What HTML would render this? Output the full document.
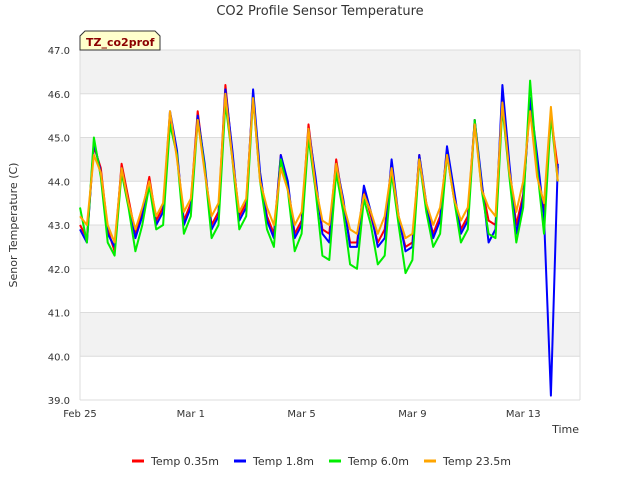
<!DOCTYPE html>
<html><head><meta charset="utf-8"><style>
body{margin:0;background:#fff;font-family:"Liberation Sans","DejaVu Sans",sans-serif}
svg text{font-family:"DejaVu Sans","Liberation Sans",sans-serif}
</style></head><body>
<svg id="c" width="640" height="480" xmlns="http://www.w3.org/2000/svg">
<text x="320" y="15" text-anchor="middle" font-size="13" fill="#333">CO2 Profile Sensor Temperature</text>
<g id="bands"></g><g id="grid"></g><g id="series"></g><g id="axes"></g>
<text x="17" y="225" transform="rotate(-90 17 225)" text-anchor="middle" font-size="11" fill="#333">Senor Temperature (C)</text>
<text x="579" y="433" text-anchor="end" font-size="11" fill="#333">Time</text>
<g><path d="M80,50 L80,36 L85,31 L155,31 L160,36 L160,50 Z" fill="#ffffcc" stroke="#333" stroke-width="1"/><text x="86" y="46" font-size="11" font-weight="bold" fill="#8b0000">TZ_co2prof</text></g>
<g id="legend"></g>
</svg>
<script>
const dayLabels=["Feb 25","Mar 1","Mar 5","Mar 9","Mar 13"];
const dayTicks=[0,4,8,12,16];
const yTicks=[39,40,41,42,43,44,45,46,47];
const seriesNames=["Temp 0.35m","Temp 1.8m","Temp 6.0m","Temp 23.5m"];
const seriesColors=["#ff0000","#0000ff","#00ee00","#ffa500"];
const step=0.25;
const red=[43.0,42.7,44.8,44.3,42.9,42.4,44.4,43.6,42.8,43.3,44.1,43.1,43.4,45.5,44.6,43.1,43.5,45.6,44.3,43.0,43.3,46.2,44.6,43.2,43.5,46.0,44.1,43.2,42.8,44.6,43.9,42.8,43.1,45.3,44.0,42.9,42.8,44.5,43.5,42.6,42.6,43.8,43.2,42.6,42.9,44.4,43.1,42.5,42.6,44.6,43.4,42.8,43.2,44.7,43.7,42.9,43.2,45.4,43.9,43.1,43.0,45.9,44.3,43.0,43.7,45.8,44.2,43.3,45.5,44.3];
const blue=[42.9,42.6,44.9,44.2,42.8,42.5,44.3,43.5,42.7,43.2,44.0,43.0,43.3,45.6,44.7,43.0,43.4,45.5,44.4,42.9,43.2,46.1,44.7,43.1,43.4,46.1,44.2,43.1,42.7,44.6,44.0,42.7,43.0,45.2,44.1,42.8,42.6,44.4,43.6,42.5,42.5,43.9,43.3,42.5,42.7,44.5,43.2,42.4,42.5,44.6,43.5,42.7,43.1,44.8,43.8,42.8,43.1,45.4,44.0,42.6,42.9,46.2,44.4,42.8,43.6,45.9,44.6,43.2,39.1,44.4];
const green=[43.4,42.6,45.0,44.1,42.6,42.3,44.2,43.4,42.4,43.0,43.9,42.9,43.0,45.3,44.6,42.8,43.2,45.4,44.3,42.7,43.0,45.8,44.5,42.9,43.2,45.9,44.0,42.9,42.5,44.5,43.8,42.4,42.8,45.0,43.8,42.3,42.2,44.2,43.3,42.1,42.0,43.6,43.0,42.1,42.3,44.2,43.0,41.9,42.2,44.5,43.3,42.5,42.8,44.6,43.6,42.6,42.9,45.4,43.8,42.8,42.7,45.7,44.1,42.6,43.4,46.3,44.3,42.8,45.5,44.0];
const orange=[43.2,43.0,44.6,44.2,43.0,42.6,44.3,43.5,42.9,43.4,44.0,43.2,43.5,45.6,44.5,43.3,43.6,45.4,44.2,43.2,43.5,46.0,44.5,43.3,43.6,45.9,44.0,43.4,43.0,44.3,43.8,43.0,43.3,45.2,43.9,43.1,43.0,44.4,43.5,42.9,42.8,43.7,43.3,42.8,43.2,44.3,43.2,42.7,42.8,44.5,43.5,43.0,43.4,44.6,43.6,43.1,43.4,45.3,43.8,43.4,43.2,45.8,44.2,43.3,44.0,45.6,44.1,43.5,45.7,44.0];
const allSeries=[red,blue,green,orange];
const NS="http://www.w3.org/2000/svg";
const L=80,R=580,T=50,B=400,D0=0,D1=18.05,Y0=39,Y1=47;
const xs=d=>L+(d-D0)/(D1-D0)*(R-L);
const ys=v=>B-(v-Y0)/(Y1-Y0)*(B-T);
function mk(p,tag,a){const e=document.createElementNS(NS,tag);for(const k in a)e.setAttribute(k,a[k]);p.appendChild(e);return e;}
const bands=document.getElementById('bands'),grid=document.getElementById('grid'),axes=document.getElementById('axes'),ser=document.getElementById('series'),leg=document.getElementById('legend');
mk(bands,'rect',{x:L,y:T,width:R-L,height:B-T,fill:'#fff'});
for(let i=0;i<yTicks.length-1;i++){
  if((yTicks.length-2-i)%2===0){const r=mk(bands,'rect',{x:L,y:ys(yTicks[i+1]),width:R-L,height:ys(yTicks[i])-ys(yTicks[i+1]),fill:'#f2f2f2'});
  
  }
}
yTicks.forEach(v=>{
  const l=mk(grid,'line',{x1:L,x2:R,y1:ys(v),y2:ys(v),stroke:'#dcdcdc'});
  
  
  const t=mk(axes,'text',{x:L-10,y:ys(v)+4,'text-anchor':'end','font-size':'10',fill:'#333'});t.textContent=v.toFixed(1);
  
  
});
mk(grid,'line',{x1:L,x2:L,y1:T,y2:B,stroke:'#dcdcdc'});
mk(grid,'line',{x1:R,x2:R,y1:T,y2:B,stroke:'#dcdcdc'});
dayTicks.forEach((d,i)=>{
  const t=mk(axes,'text',{x:xs(d),y:B+17,'text-anchor':'middle','font-size':'10',fill:'#333'});t.textContent=dayLabels[i];
  
  
});
allSeries.forEach((arr,si)=>{
  const pts=arr.map((v,i)=>xs(i*step).toFixed(1)+','+ys(v).toFixed(1)).join(' ');
  const p=mk(ser,'polyline',{points:pts,fill:'none',stroke:seriesColors[si],'stroke-width':2,'stroke-linejoin':'round'});
  
  
});
const lx=[132,234,329,424];
seriesNames.forEach((n,i)=>{
  const g=mk(leg,'g',{});
  
  
  mk(g,'line',{x1:lx[i],x2:lx[i]+12,y1:461,y2:461,stroke:seriesColors[i],'stroke-width':3});
  const t=mk(g,'text',{x:lx[i]+19,y:465,'font-size':'11',fill:'#333'});t.textContent=n;
});
</script>
</body></html>
